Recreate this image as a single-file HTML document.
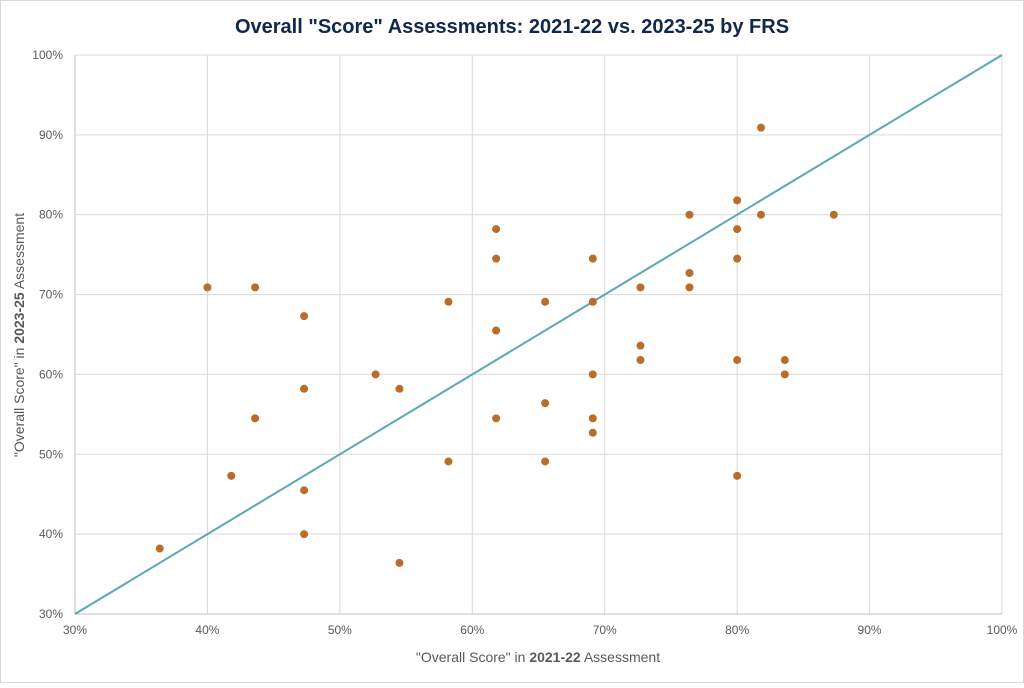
<!DOCTYPE html>
<html><head><meta charset="utf-8"><style>
html,body{margin:0;padding:0;background:#fff;}
body{width:1024px;height:683px;overflow:hidden;font-family:"Liberation Sans",sans-serif;}
</style></head><body>
<svg id="chart" width="1024" height="683" xmlns="http://www.w3.org/2000/svg">
<rect x="0.5" y="0.5" width="1023" height="682" fill="#fff" stroke="#d9d9d9"/>
<text x="512" y="33" text-anchor="middle" font-size="20" font-weight="bold" fill="#12284a">Overall "Score" Assessments: 2021-22 vs. 2023-25 by FRS</text>
<g id="grid"></g>
<g id="axes"></g>
<g id="marks"></g>
<text x="538" y="662" text-anchor="middle" font-size="14" fill="#595959">"Overall Score" in <tspan font-weight="bold">2021-22</tspan> Assessment</text>
<text transform="translate(24,335) rotate(-90)" text-anchor="middle" font-size="14" fill="#595959">"Overall Score" in <tspan font-weight="bold">2023-25</tspan> Assessment</text>
</svg>
<script>
const xTicks = [30,40,50,60,70,80,90,100];
const yTicks = [30,40,50,60,70,80,90,100];
const xVals = [36.4,40,43.6,43.6,41.8,47.3,47.3,47.3,47.3,52.7,54.5,54.5,58.2,58.2,61.8,61.8,61.8,61.8,65.5,65.5,65.5,69.1,69.1,69.1,69.1,69.1,72.7,72.7,72.7,76.4,76.4,76.4,80,80,80,80,80,81.8,81.8,83.6,83.6,87.3];
const yVals = [38.2,70.9,70.9,54.5,47.3,67.3,58.2,45.5,40,60,58.2,36.4,69.1,49.1,78.2,74.5,65.5,54.5,69.1,56.4,49.1,74.5,69.1,60,54.5,52.7,70.9,63.6,61.8,80,72.7,70.9,81.8,78.2,74.5,61.8,47.3,90.9,80,61.8,60,80];
const X0=75,X1=1002,Y0=614,Y1=55;
const sx=v=>X0+(v-30)/70*(X1-X0);
const sy=v=>Y0-(v-30)/70*(Y0-Y1);
const NS="http://www.w3.org/2000/svg";
function mk(tag,parent,attrs){const e=document.createElementNS(NS,tag);for(const k in attrs)e.setAttribute(k,attrs[k]);parent.appendChild(e);return e;}
const grid=document.getElementById('grid'),axes=document.getElementById('axes'),marks=document.getElementById('marks');
xTicks.forEach(t=>{
  const l=mk('line',grid,{x1:sx(t),x2:sx(t),y1:Y1,y2:Y0,stroke:t===30?'#bfbfbf':'#d9d9d9','stroke-width':1});
  
  
  const tx=mk('text',axes,{x:sx(t),y:Y0+20,'text-anchor':'middle','font-size':12,fill:'#595959'});
  tx.textContent=t+'%';
  
  
});
yTicks.forEach(t=>{
  const l=mk('line',grid,{x1:X0,x2:X1,y1:sy(t),y2:sy(t),stroke:t===30?'#bfbfbf':'#d9d9d9','stroke-width':1});
  
  
  const tx=mk('text',axes,{x:X0-12,y:sy(t)+4,'text-anchor':'end','font-size':12,fill:'#595959'});
  tx.textContent=t+'%';
  
  
});
const diag=mk('line',marks,{x1:sx(30),y1:sy(30),x2:sx(100),y2:sy(100),stroke:'#5ba8b0','stroke-width':2});


xVals.forEach((v,i)=>{
  const c=mk('circle',marks,{cx:sx(v),cy:sy(yVals[i]),r:4,fill:'#b86e2a'});
  
  
});
</script>
</body></html>
